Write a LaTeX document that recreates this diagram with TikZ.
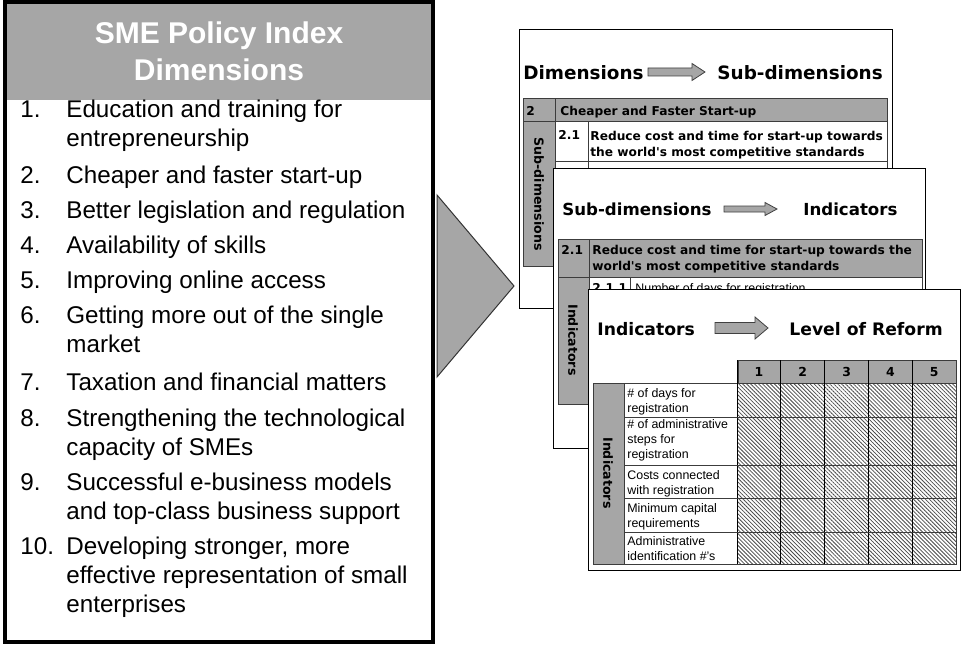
\documentclass[tikz,border=0pt]{standalone}
\usepackage{fontspec}
\setmainfont{Liberation Sans}
\newfontfamily\cardfont{DejaVu Sans}
\usetikzlibrary{patterns.meta}

\definecolor{refgray}{RGB}{166,166,166}
\definecolor{lineclr}{RGB}{60,60,60}

% gray block arrow: x start, x tip, y middle, shaft half, head half, head length
\newcommand{\flowarrow}[6]{%
  \draw[fill=refgray,draw=black!75,line width=0.4pt] (#1,#3-#4) -- (#2-#6,#3-#4) -- (#2-#6,#3-#5) -- (#2,#3)
    -- (#2-#6,#3+#5) -- (#2-#6,#3+#4) -- (#1,#3+#4) -- cycle;}

% multi-line nodes: base = baseline of the last line
\tikzset{
  dimnum/.style={anchor=base west,inner sep=0pt,font=\fontsize{12.1}{14.5}\selectfont},
  dimitem/.style={dimnum,align=left},
  cardbox/.style={draw=black,fill=white,line width=0.5pt},
  cardtitle/.style={anchor=base west,inner sep=0pt,font=\cardfont\bfseries\fontsize{#1}{#1}\selectfont},
  tabhead/.style={anchor=base west,inner sep=0pt,align=left,font=\cardfont\bfseries\fontsize{6.1}{8}\selectfont},
  tabtext/.style={anchor=base west,inner sep=0pt,align=left,font=\fontsize{6.2}{7.5}\selectfont},
  sidelabel/.style={rotate=-90,inner sep=0pt,font=\cardfont\bfseries\fontsize{6.3}{6.3}\selectfont},
  tabline/.style={draw=lineclr,line width=0.5pt},
  hatched/.style={pattern={Lines[angle=-45,distance=1.4pt,line width=0.4pt]},pattern color=black!70},
}

\begin{document}
\begin{tikzpicture}[x=0.5pt,y=-0.5pt]
  \useasboundingbox (0,0) rectangle (963,647);

  % left box with the ten dimensions
  \fill[refgray] (5,2) rectangle (433,100);
  \draw[line width=1.6pt] (5,2) rectangle (433,642);
  \node[anchor=base,inner sep=0pt,align=center,text=white,font=\bfseries\fontsize{15}{18.5}\selectfont] (title) at (219,81) {SME Policy Index\\Dimensions};

  \node[dimnum] (n1) at (20,118) {1.};
  \node[dimitem] (t1) at (66,147) {Education and training for\\entrepreneurship};
  \node[dimnum] (n2) at (20,183) {2.};
  \node[dimitem] (t2) at (66,183) {Cheaper and faster start-up};
  \node[dimnum] (n3) at (20,218) {3.};
  \node[dimitem] (t3) at (66,218) {Better legislation and regulation};
  \node[dimnum] (n4) at (20,253) {4.};
  \node[dimitem] (t4) at (66,253) {Availability of skills};
  \node[dimnum] (n5) at (20,288) {5.};
  \node[dimitem] (t5) at (66,288) {Improving online access};
  \node[dimnum] (n6) at (20,323) {6.};
  \node[dimitem] (t6) at (66,352) {Getting more out of the single\\market};
  \node[dimnum] (n7) at (20,390) {7.};
  \node[dimitem] (t7) at (66,390) {Taxation and financial matters};
  \node[dimnum] (n8) at (20,426) {8.};
  \node[dimitem] (t8) at (66,455) {Strengthening the technological\\capacity of SMEs};
  \node[dimnum] (n9) at (20,490) {9.};
  \node[dimitem] (t9) at (66,519) {Successful e-business models\\and top-class business support};
  \node[dimnum] (n10) at (20,554) {10.};
  \node[dimitem] (t10) at (66,612) {Developing stronger, more\\effective representation of small\\enterprises};

  % big pointer
  \draw[fill=refgray,draw=black!80,line width=0.5pt] (437,195) -- (514,286) -- (437,377) -- cycle;

  % card 1: dimensions -> sub-dimensions
  \draw[cardbox] (519,30) rectangle (892,308);
  \node[cardtitle=9.2] (dimA) at (523,80) {Dimensions};
  \flowarrow{648}{705}{72}{4}{8.5}{13}
  \node[cardtitle=9.2] (subA) at (717,80) {Sub-dimensions};
  \fill[refgray] (523,99) rectangle (887,122);
  \fill[refgray] (523,122) rectangle (555,266);
  \draw[tabline] (523,99) rectangle (887,266) (523,122) -- (887,122) (555,99) -- (555,266)
    (588,122) -- (588,266) (555,161) -- (887,161);
  \node[tabhead] (hA) at (526,116) {2};
  \node[tabhead] (hAtxt) at (560,116) {Cheaper and Faster Start-up};
  \node[tabhead] (rA) at (558,140) {2.1};
  \node[tabhead] (rAtxt) at (590,156) {Reduce cost and time for start-up towards\\the world's most competitive standards};
  \node[sidelabel] (sideA) at (539,194) {Sub-dimensions};

  % card 2: sub-dimensions -> indicators
  \draw[cardbox] (553,168) rectangle (925,448);
  \node[cardtitle=8.3] (subB) at (562,215) {Sub-dimensions};
  \flowarrow{724}{777}{209}{3}{6.5}{12}
  \node[cardtitle=8.3] (indB) at (803,215) {Indicators};
  \fill[refgray] (558,239) rectangle (922,277);
  \fill[refgray] (558,277) rectangle (589,404);
  \draw[tabline] (558,239) rectangle (922,404) (558,277) -- (922,277) (589,239) -- (589,404)
    (630,277) -- (630,404);
  \node[tabhead] (hB) at (561,254) {2.1};
  \node[tabhead] (hBtxt) at (592,270) {Reduce cost and time for start-up towards the\\world's most competitive standards};
  \node[tabhead] (rB) at (592,292) {2.1.1};
  \node[tabtext] (rBtxt) at (635,292) {Number of days for registration};
  \node[sidelabel] (sideB) at (573,340) {Indicators};

  % card 3: indicators -> level of reform
  \draw[cardbox] (588,289) rectangle (960,570);
  \node[cardtitle=8.6] (indC) at (597,335) {Indicators};
  \flowarrow{715}{768}{328}{5.5}{11}{13}
  \node[cardtitle=8.6] (lvlC) at (789,335) {Level of Reform};
  \fill[refgray] (738,360) rectangle (956,383);
  \fill[refgray] (593,383) rectangle (624,564);
  \fill[hatched] (737,383) rectangle (956,564);
  \draw[tabline] (738,360) rectangle (956,383) (593,383) rectangle (956,564) (624,383) -- (624,564);
  \foreach \c in {0,...,4} {
    \draw[line width=0.5pt] ({737+43.8*\c},360) -- ({737+43.8*\c},564);
    \node[font=\cardfont\bfseries\fontsize{6.2}{6.2}\selectfont,inner sep=0pt] (lv\c) at ({759+43.8*\c},372) {\the\numexpr\c+1\relax};
  }
  \foreach \r in {417,465,498,532}
    \draw[tabline] (624,\r) -- (956,\r);
  \node[tabtext] (iC1) at (627,412) {\# of days for\\registration};
  \node[tabtext] (iC2) at (627,458) {\# of administrative\\steps for\\registration};
  \node[tabtext] (iC3) at (627,494) {Costs connected\\with registration};
  \node[tabtext] (iC4) at (627,527) {Minimum capital\\requirements};
  \node[tabtext] (iC5) at (627,560) {Administrative\\identification \#'s};
  \node[sidelabel] (sideC) at (608,473) {Indicators};
\end{tikzpicture}
\end{document}
